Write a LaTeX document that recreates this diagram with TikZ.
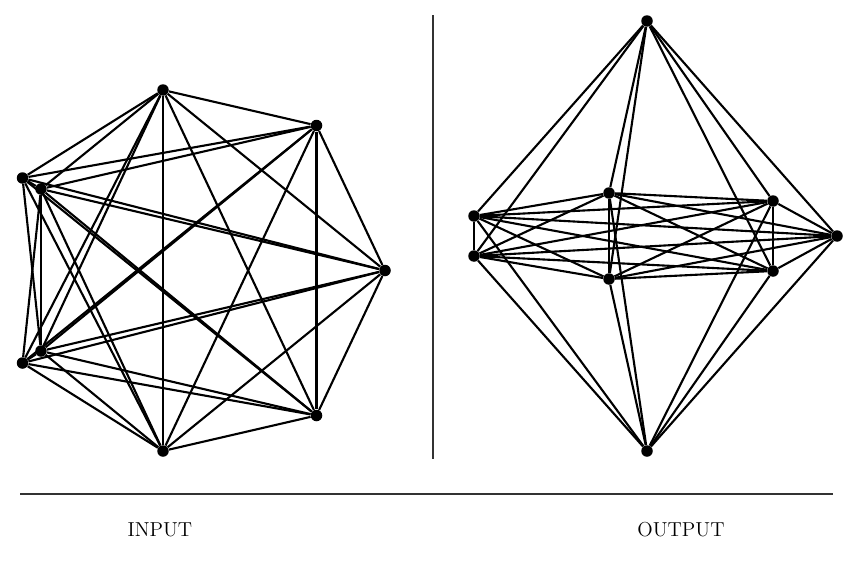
\documentclass[tikz,border=0pt]{standalone}
\usepackage{tikz}
\usetikzlibrary{calc}
\tikzset{
	vert/.style={circle, fill=black, inner sep=0pt, minimum size=0.23cm},
	edge/.style={line width=1.2pt, color=black},
	rule/.style={line width=0.6pt, color=black!80},
	caption/.style={font=\fontsize{11.5}{13}\selectfont}
}

\begin{document}
\begin{tikzpicture}[x=0.02cm, y=-0.02cm]
			%%%%% START %%%%%
			
			\useasboundingbox (0, 0) rectangle (865, 561);
			
			% input graph
			\node[vert] (i1) at (163, 90) {};
			\node[vert] (i2) at (316.5, 125.5) {};
			\node[vert] (i3) at (385, 270.5) {};
			\node[vert] (i4) at (316.5, 415.5) {};
			\node[vert] (i5) at (163, 451) {};
			\node[vert] (i6) at (22.5, 363) {};
			\node[vert] (i7) at (41, 351) {};
			\node[vert] (i8) at (41, 189) {};
			\node[vert] (i9) at (22.5, 178) {};
			
			\foreach \i in {1,...,8} {
				\pgfmathtruncatemacro\k{\i+1}
				\foreach \j in {\k,...,9} {
					\ifnum\i\j=69 \else \draw[edge] (i\i) -- (i\j); \fi
				}
			}
			
			% output graph
			\node[vert] (o1) at (647, 21) {};
			\node[vert] (o2) at (474, 216) {};
			\node[vert] (o3) at (474, 256) {};
			\node[vert] (o4) at (609, 193) {};
			\node[vert] (o5) at (609, 279) {};
			\node[vert] (o6) at (773, 201) {};
			\node[vert] (o7) at (773, 271) {};
			\node[vert] (o8) at (837, 236) {};
			\node[vert] (o9) at (647, 451) {};
			
			\foreach \i in {1,...,8} {
				\pgfmathtruncatemacro\k{\i+1}
				\foreach \j in {\k,...,9} {
					\ifnum\i\j=19 \else \draw[edge] (o\i) -- (o\j); \fi
				}
			}
			
			% frame
			\draw[rule] (433, 15) -- (433, 459);
			\draw[rule] (20, 494) -- (833, 494);
			
			\node[caption] (inlabel) at (160, 530) {INPUT};
			\node[caption] (outlabel) at (681, 530) {OUTPUT};
			
			%%%%% END %%%%%
		\end{tikzpicture}
\end{document}
